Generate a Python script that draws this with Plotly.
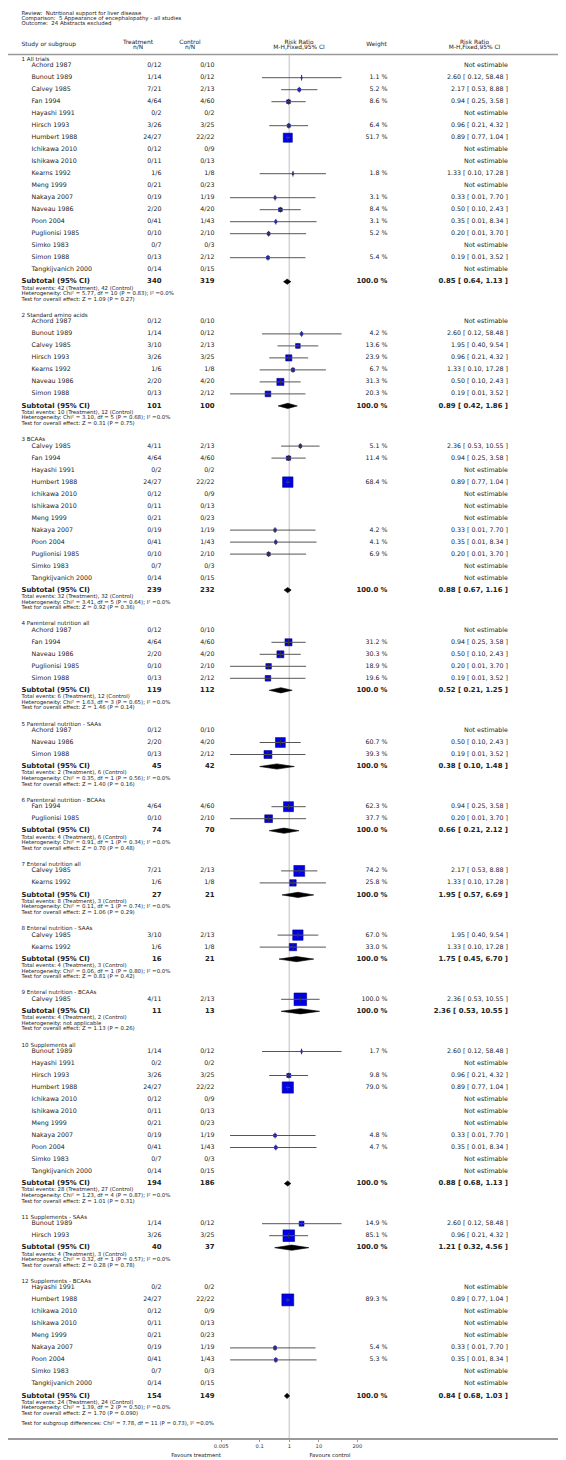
import math
import plotly.graph_objects as go

# ---------------- data ----------------
header_lines = ["Review:  Nutritional support for liver disease",
                "Comparison:  5 Appearance of encephalopathy - all studies",
                "Outcome:  24 Abstracts excluded"]

group_titles = ["1 All trials", "2 Standard amino acids", "3 BCAAs", "4 Parenteral nutrition all",
                "5 Parenteral nutrition - SAAs", "6 Parenteral nutrition - BCAAs", "7 Enteral nutrition all",
                "8 Enteral nutrition - SAAs", "9 Enteral nutrition - BCAAs", "10 Supplements all",
                "11 Supplements - SAAs", "12 Supplements - BCAAs"]

group_sizes = [18, 7, 12, 5, 3, 2, 2, 2, 1, 11, 2, 9]

study_name = [
    "Achord 1987", "Bunout 1989", "Calvey 1985", "Fan 1994", "Hayashi 1991", "Hirsch 1993", "Humbert 1988",
    "Ichikawa 2010", "Ishikawa 2010", "Kearns 1992", "Meng 1999", "Nakaya 2007", "Naveau 1986", "Poon 2004",
    "Puglionisi 1985", "Simko 1983", "Simon 1988", "Tangkijvanich 2000",
    "Achord 1987", "Bunout 1989", "Calvey 1985", "Hirsch 1993", "Kearns 1992", "Naveau 1986", "Simon 1988",
    "Calvey 1985", "Fan 1994", "Hayashi 1991", "Humbert 1988", "Ichikawa 2010", "Ishikawa 2010", "Meng 1999",
    "Nakaya 2007", "Poon 2004", "Puglionisi 1985", "Simko 1983", "Tangkijvanich 2000",
    "Achord 1987", "Fan 1994", "Naveau 1986", "Puglionisi 1985", "Simon 1988",
    "Achord 1987", "Naveau 1986", "Simon 1988",
    "Fan 1994", "Puglionisi 1985",
    "Calvey 1985", "Kearns 1992",
    "Calvey 1985", "Kearns 1992",
    "Calvey 1985",
    "Bunout 1989", "Hayashi 1991", "Hirsch 1993", "Humbert 1988", "Ichikawa 2010", "Ishikawa 2010", "Meng 1999",
    "Nakaya 2007", "Poon 2004", "Simko 1983", "Tangkijvanich 2000",
    "Bunout 1989", "Hirsch 1993",
    "Hayashi 1991", "Humbert 1988", "Ichikawa 2010", "Ishikawa 2010", "Meng 1999", "Nakaya 2007", "Poon 2004",
    "Simko 1983", "Tangkijvanich 2000",
]

treatment_nN = [
    "0/12", "1/14", "7/21", "4/64", "0/2", "3/26", "24/27", "0/12", "0/11", "1/6", "0/21", "0/19", "2/20", "0/41",
    "0/10", "0/7", "0/13", "0/14",
    "0/12", "1/14", "3/10", "3/26", "1/6", "2/20", "0/13",
    "4/11", "4/64", "0/2", "24/27", "0/12", "0/11", "0/21", "0/19", "0/41", "0/10", "0/7", "0/14",
    "0/12", "4/64", "2/20", "0/10", "0/13",
    "0/12", "2/20", "0/13",
    "4/64", "0/10",
    "7/21", "1/6",
    "3/10", "1/6",
    "4/11",
    "1/14", "0/2", "3/26", "24/27", "0/12", "0/11", "0/21", "0/19", "0/41", "0/7", "0/14",
    "1/14", "3/26",
    "0/2", "24/27", "0/12", "0/11", "0/21", "0/19", "0/41", "0/7", "0/14",
]

control_nN = [
    "0/10", "0/12", "2/13", "4/60", "0/2", "3/25", "22/22", "0/9", "0/13", "1/8", "0/23", "1/19", "4/20", "1/43",
    "2/10", "0/3", "2/12", "0/15",
    "0/10", "0/12", "2/13", "3/25", "1/8", "4/20", "2/12",
    "2/13", "4/60", "0/2", "22/22", "0/9", "0/13", "0/23", "1/19", "1/43", "2/10", "0/3", "0/15",
    "0/10", "4/60", "4/20", "2/10", "2/12",
    "0/10", "4/20", "2/12",
    "4/60", "2/10",
    "2/13", "1/8",
    "2/13", "1/8",
    "2/13",
    "0/12", "0/2", "3/25", "22/22", "0/9", "0/13", "0/23", "1/19", "1/43", "0/3", "0/15",
    "0/12", "3/25",
    "0/2", "22/22", "0/9", "0/13", "0/23", "1/19", "1/43", "0/3", "0/15",
]

weight_pct = [
    None, 1.1, 5.2, 8.6, None, 6.4, 51.7, None, None, 1.8, None, 3.1, 8.4, 3.1, 5.2, None, 5.4, None,
    None, 4.2, 13.6, 23.9, 6.7, 31.3, 20.3,
    5.1, 11.4, None, 68.4, None, None, None, 4.2, 4.1, 6.9, None, None,
    None, 31.2, 30.3, 18.9, 19.6,
    None, 60.7, 39.3,
    62.3, 37.7,
    74.2, 25.8,
    67.0, 33.0,
    100.0,
    1.7, None, 9.8, 79.0, None, None, None, 4.8, 4.7, None, None,
    14.9, 85.1,
    None, 89.3, None, None, None, 5.4, 5.3, None, None,
]

risk_ratio = [
    None, 2.60, 2.17, 0.94, None, 0.96, 0.89, None, None, 1.33, None, 0.33, 0.50, 0.35, 0.20, None, 0.19, None,
    None, 2.60, 1.95, 0.96, 1.33, 0.50, 0.19,
    2.36, 0.94, None, 0.89, None, None, None, 0.33, 0.35, 0.20, None, None,
    None, 0.94, 0.50, 0.20, 0.19,
    None, 0.50, 0.19,
    0.94, 0.20,
    2.17, 1.33,
    1.95, 1.33,
    2.36,
    2.60, None, 0.96, 0.89, None, None, None, 0.33, 0.35, None, None,
    2.60, 0.96,
    None, 0.89, None, None, None, 0.33, 0.35, None, None,
]

ci_low = [
    None, 0.12, 0.53, 0.25, None, 0.21, 0.77, None, None, 0.10, None, 0.01, 0.10, 0.01, 0.01, None, 0.01, None,
    None, 0.12, 0.40, 0.21, 0.10, 0.10, 0.01,
    0.53, 0.25, None, 0.77, None, None, None, 0.01, 0.01, 0.01, None, None,
    None, 0.25, 0.10, 0.01, 0.01,
    None, 0.10, 0.01,
    0.25, 0.01,
    0.53, 0.10,
    0.40, 0.10,
    0.53,
    0.12, None, 0.21, 0.77, None, None, None, 0.01, 0.01, None, None,
    0.12, 0.21,
    None, 0.77, None, None, None, 0.01, 0.01, None, None,
]

ci_high = [
    None, 58.48, 8.88, 3.58, None, 4.32, 1.04, None, None, 17.28, None, 7.70, 2.43, 8.34, 3.70, None, 3.52, None,
    None, 58.48, 9.54, 4.32, 17.28, 2.43, 3.52,
    10.55, 3.58, None, 1.04, None, None, None, 7.70, 8.34, 3.70, None, None,
    None, 3.58, 2.43, 3.70, 3.52,
    None, 2.43, 3.52,
    3.58, 3.70,
    8.88, 17.28,
    9.54, 17.28,
    10.55,
    58.48, None, 4.32, 1.04, None, None, None, 7.70, 8.34, None, None,
    58.48, 4.32,
    None, 1.04, None, None, None, 7.70, 8.34, None, None,
]

sub_treat_total = [340, 101, 239, 119, 45, 74, 27, 16, 11, 194, 40, 154]
sub_ctrl_total = [319, 100, 232, 112, 42, 70, 21, 21, 13, 186, 37, 149]
sub_rr = [0.85, 0.89, 0.88, 0.52, 0.38, 0.66, 1.95, 1.75, 2.36, 0.88, 1.21, 0.84]
sub_low = [0.64, 0.42, 0.67, 0.21, 0.10, 0.21, 0.57, 0.45, 0.53, 0.68, 0.32, 0.68]
sub_high = [1.13, 1.86, 1.16, 1.25, 1.48, 2.12, 6.69, 6.70, 10.55, 1.13, 4.56, 1.03]
events_treat = [42, 10, 32, 6, 2, 4, 8, 4, 4, 28, 4, 24]
events_ctrl = [42, 12, 32, 12, 6, 6, 3, 3, 2, 27, 3, 24]
het_chi2 = ["5.77", "3.10", "3.41", "1.63", "0.35", "0.91", "0.11", "0.06", None, "1.23", "0.32", "1.39"]
het_df = [10, 5, 5, 3, 1, 1, 1, 1, None, 4, 1, 2]
het_p = ["0.83", "0.68", "0.64", "0.65", "0.56", "0.34", "0.74", "0.80", None, "0.87", "0.57", "0.50"]
z_value = ["1.09", "0.31", "0.92", "1.46", "1.40", "0.70", "1.06", "0.81", "1.13", "1.01", "0.28", "1.70"]
z_p = ["0.27", "0.75", "0.36", "0.14", "0.16", "0.48", "0.29", "0.42", "0.26", "0.31", "0.78", "0.090"]
subgroup_test = "Test for subgroup differences: Chi² = 7.78, df = 11 (P = 0.73), I² =0.0%"

tick_values = [0.005, 0.1, 1, 10, 200]
tick_labels = ["0.005", "0.1", "1", "10", "200"]
favours_left = "Favours treatment"
favours_right = "Favours control"

# ---------------- layout constants ----------------
W, H = 566, 1460
FONT = "DejaVu Sans"
TXT = "#222222"
NULL_PX, DECADE_PX = 281.3, 29.6
X_GROUP, X_STUDY = 13.5, 23.5
X_TREAT, X_CTRL = 153.5, 206.5
X_WEIGHT, X_RR = 379.5, 500.0
TITLE1_Y, ROW, TITLE_GAP, NEXT_GAP = 51.5, 12.0, 6.2, 34.0
HEADER_LINE_Y = 46.5
ROW_FS, SUB_FS, STAT_FS = 6.3, 6.9, 5.4


def xd(px):
    return 10 ** ((px - NULL_PX) / DECADE_PX)


# row positions
title_y, study_y, sub_y = [], [], []
y = TITLE1_Y
for n in group_sizes:
    title_y.append(y)
    first = y + TITLE_GAP
    for k in range(n):
        study_y.append(first + k * ROW)
    sy = first + n * ROW
    sub_y.append(sy)
    y = sy + NEXT_GAP
test_y = sub_y[-1] + 27.5
AXIS_Y = test_y + 15.5

fig = go.Figure()


def add_text(px, ys, texts, pos, size, color=TXT):
    fig.add_trace(go.Scatter(
        x=[xd(px)] * len(ys), y=ys, text=texts, mode="text", textposition=pos,
        textfont=dict(family=FONT, size=size, color=color), hoverinfo="skip",
        showlegend=False, cliponaxis=False))


L, R, C = "middle right", "middle left", "middle center"

# header
add_text(X_GROUP, [5.5, 10.8, 16.1], header_lines, L, 5.4)
add_text(X_GROUP, [37], ["Study or subgroup"], L, 5.9)
add_text(130, [34.5, 40], ["Treatment", "n/N"], C, 5.9)
add_text(182, [34.5, 40], ["Control", "n/N"], C, 5.9)
add_text(291, [34.5, 40], ["Risk Ratio", "M-H,Fixed,95% CI"], C, 5.9)
add_text(368.5, [37], ["Weight"], C, 5.9)
add_text(466.5, [34.5, 40], ["Risk Ratio", "M-H,Fixed,95% CI"], C, 5.9)

# group titles
add_text(X_GROUP, title_y, group_titles, L, 5.6)

# study rows
add_text(X_STUDY, study_y, study_name, L, ROW_FS)
add_text(X_TREAT, study_y, treatment_nN, R, ROW_FS)
add_text(X_CTRL, study_y, control_nN, R, ROW_FS)
wy = [yy for yy, w in zip(study_y, weight_pct) if w is not None]
wt = [f"{w:.1f} %" for w in weight_pct if w is not None]
add_text(X_WEIGHT, wy, wt, R, ROW_FS)
rr_txt = [("Not estimable" if r is None else f"{r:.2f} [ {lo:.2f}, {hi:.2f} ]")
          for r, lo, hi in zip(risk_ratio, ci_low, ci_high)]
add_text(X_RR, study_y, rr_txt, R, ROW_FS)

# subtotal rows
add_text(X_GROUP, sub_y, ["<b>Subtotal (95% CI)</b>"] * len(sub_y), L, SUB_FS)
add_text(X_TREAT, sub_y, [f"<b>{v}</b>" for v in sub_treat_total], R, SUB_FS)
add_text(X_CTRL, sub_y, [f"<b>{v}</b>" for v in sub_ctrl_total], R, SUB_FS)
add_text(X_WEIGHT, sub_y, ["<b>100.0 %</b>"] * len(sub_y), R, SUB_FS)
add_text(X_RR, sub_y, [f"<b>{r:.2f} [ {lo:.2f}, {hi:.2f} ]</b>" for r, lo, hi in zip(sub_rr, sub_low, sub_high)],
         R, SUB_FS)

# stats lines
stat_y, stat_t = [], []
for g in range(len(group_titles)):
    stat_y += [sub_y[g] + 6.6, sub_y[g] + 12.2, sub_y[g] + 17.8]
    het = ("Heterogeneity: not applicable" if het_chi2[g] is None else
           f"Heterogeneity: Chi² = {het_chi2[g]}, df = {het_df[g]} (P = {het_p[g]}); I² =0.0%")
    stat_t += [f"Total events: {events_treat[g]} (Treatment), {events_ctrl[g]} (Control)", het,
               f"Test for overall effect: Z = {z_value[g]} (P = {z_p[g]})"]
add_text(X_GROUP, stat_y, stat_t, L, STAT_FS)
add_text(X_GROUP, [test_y], [subgroup_test], L, STAT_FS)

# squares (weights)
sq_x = [r for r, w in zip(risk_ratio, weight_pct) if w is not None]
sq_y = [yy for yy, w in zip(study_y, weight_pct) if w is not None]
sq_s = [1.26 * math.sqrt(w) for w in weight_pct if w is not None]
fig.add_trace(go.Scatter(x=sq_x, y=sq_y, mode="markers", hoverinfo="skip", showlegend=False,
                         marker=dict(symbol="square", size=sq_s, color="#0000e6", opacity=1,
                                     line=dict(color="#00008b", width=0.6))))

# CI lines
cx, cy = [], []
for r, lo, hi, yy in zip(risk_ratio, ci_low, ci_high, study_y):
    if r is None:
        continue
    cx += [lo, hi, None]
    cy += [yy, yy, None]
fig.add_trace(go.Scatter(x=cx, y=cy, mode="lines", line=dict(color="#555555", width=1),
                         hoverinfo="skip", showlegend=False))
# point ticks
fig.add_trace(go.Scatter(x=sq_x, y=sq_y, mode="markers", hoverinfo="skip", showlegend=False,
                         marker=dict(symbol="line-ns", size=4, opacity=1,
                                     line=dict(color="#333333", width=1))))

# diamonds
for r, lo, hi, yy in zip(sub_rr, sub_low, sub_high, sub_y):
    fig.add_trace(go.Scatter(x=[lo, r, hi, r, lo], y=[yy, yy - 2.6, yy, yy + 2.6, yy], mode="lines",
                             fill="toself", fillcolor="black", line=dict(color="black", width=0.6),
                             hoverinfo="skip", showlegend=False))

# favours labels
add_text(188, [AXIS_Y + 17], [favours_left], C, 5.4)
add_text(322, [AXIS_Y + 17], [favours_right], C, 5.4)

# lines
fig.add_shape(type="line", xref="paper", x0=0, x1=1, yref="y", y0=HEADER_LINE_Y, y1=HEADER_LINE_Y,
              line=dict(color="#9a9a9a", width=1.5))
fig.add_shape(type="line", xref="x", x0=1, x1=1, yref="y", y0=HEADER_LINE_Y + 1, y1=AXIS_Y,
              line=dict(color="#d4d4d4", width=1.5), layer="below")

fig.update_layout(
    width=W, height=H, margin=dict(l=0, r=0, t=0, b=0),
    paper_bgcolor="white", plot_bgcolor="white",
    xaxis=dict(type="log", domain=[0, 1], range=[(0 - NULL_PX) / DECADE_PX, (W - NULL_PX) / DECADE_PX],
               anchor="free", position=1 - AXIS_Y / H, showline=True, linecolor="#9a9a9a", linewidth=1.5,
               ticks="outside", ticklen=2.5, tickwidth=1, tickcolor="#9a9a9a",
               tickvals=tick_values, ticktext=tick_labels, showgrid=False, zeroline=False,
               tickfont=dict(family=FONT, size=5.2, color="#333333")),
    yaxis=dict(range=[H, 0], domain=[0, 1], visible=False, showgrid=False, zeroline=False),
    showlegend=False,
)

fig.write_html("out.html")
